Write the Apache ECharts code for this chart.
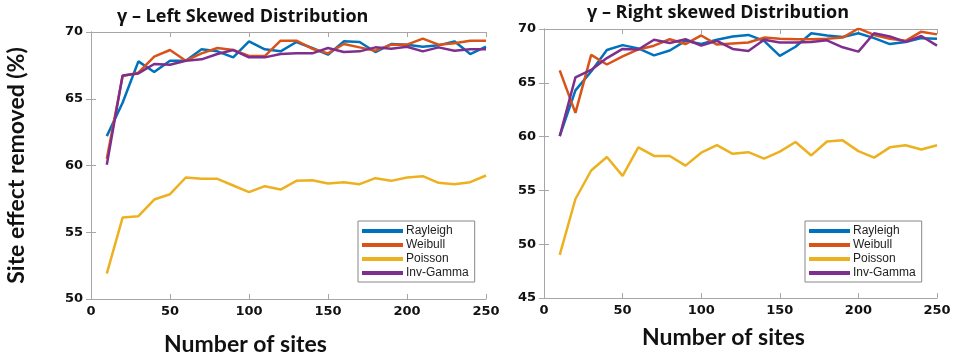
<!DOCTYPE html>
<html>
<head>
<meta charset="utf-8">
<script src="https://cdn.jsdelivr.net/npm/echarts@6/dist/echarts.min.js"></script>
<style>
  html, body { margin: 0; padding: 0; background: #fff; }
  #chart { width: 957px; height: 356px; }
</style>
</head>
<body>
<div id="chart"></div>
<script>
const sites = [10, 20, 30, 40, 50, 60, 70, 80, 90, 100, 110, 120, 130, 140, 150, 160, 170, 180, 190, 200, 210, 220, 230, 240, 250];
const seriesNames = ['Rayleigh', 'Weibull', 'Poisson', 'Inv-Gamma'];

// left skewed
const leftRayleigh = [62.2, 64.7, 67.8, 67.0, 67.85, 67.85, 68.7, 68.55, 68.1, 69.3, 68.7, 68.55, 69.25, 68.8, 68.3, 69.3, 69.25, 68.5, 69.1, 69.05, 68.9, 69.0, 69.3, 68.35, 68.9];
const leftWeibull = [60.5, 66.7, 66.95, 68.15, 68.65, 67.85, 68.4, 68.8, 68.65, 68.2, 68.2, 69.35, 69.35, 68.75, 68.4, 69.1, 68.85, 68.6, 69.05, 69.05, 69.5, 69.05, 69.15, 69.35, 69.35];
const leftPoisson = [51.9, 56.1, 56.2, 57.45, 57.85, 59.1, 59.0, 59.0, 58.5, 58.0, 58.45, 58.2, 58.85, 58.9, 58.65, 58.75, 58.6, 59.05, 58.85, 59.1, 59.2, 58.7, 58.6, 58.75, 59.25];
const leftInvGamma = [60.05, 66.75, 66.9, 67.6, 67.55, 67.85, 67.95, 68.35, 68.65, 68.1, 68.1, 68.35, 68.4, 68.4, 68.8, 68.5, 68.55, 68.85, 68.75, 68.9, 68.55, 68.85, 68.6, 68.7, 68.7];

// right skewed
const rightRayleigh = [60.05, 64.3, 66.05, 68.05, 68.5, 68.2, 67.55, 68.0, 68.9, 68.6, 69.0, 69.3, 69.45, 68.9, 67.5, 68.35, 69.6, 69.4, 69.25, 69.6, 69.15, 68.6, 68.8, 69.15, 69.1];
const rightWeibull = [66.15, 62.2, 67.6, 66.7, 67.45, 68.1, 68.45, 69.05, 68.6, 69.4, 68.55, 68.65, 68.75, 69.2, 69.1, 69.05, 69.05, 69.1, 69.2, 70.05, 69.45, 69.1, 68.9, 69.75, 69.5];
const rightPoisson = [49.0, 54.2, 56.85, 58.1, 56.35, 59.0, 58.2, 58.2, 57.3, 58.5, 59.2, 58.4, 58.55, 57.95, 58.6, 59.5, 58.25, 59.55, 59.65, 58.65, 58.05, 59.0, 59.2, 58.8, 59.2];
const rightInvGamma = [60.05, 65.5, 66.2, 67.3, 68.15, 68.1, 69.0, 68.7, 69.05, 68.45, 68.9, 68.15, 67.95, 69.0, 68.75, 68.75, 68.8, 68.95, 68.3, 67.9, 69.6, 69.3, 68.8, 69.35, 68.45];

const colors = ['#0072BD', '#D95319', '#EDB120', '#7E2F8E'];
const boxColor = '#a6a6a6';
const tickFont = { fontFamily: 'DejaVu Sans', fontWeight: 'bold', fontSize: 13, color: '#111' };
const nameFont = { fontFamily: 'Lato', fontWeight: 'bold', fontSize: 23, color: '#111' };

function pairs(ys) {
  return sites.map((x, i) => [x, ys[i]]);
}

function bottomX(gridIndex, nameGap, shift) {
  return {
    type: 'value', gridIndex: gridIndex, min: 0, max: 250, interval: 50,
    name: 'Number of sites', nameLocation: 'middle', nameGap: nameGap,
    nameTextStyle: Object.assign({ padding: [0, shift, 0, 0] }, nameFont),
    axisLine: { show: true, lineStyle: { color: boxColor } },
    axisTick: { inside: true, length: 5, lineStyle: { color: boxColor } },
    axisLabel: Object.assign({ margin: 6 }, tickFont),
    splitLine: { show: false }
  };
}
function topX(gridIndex) {
  return {
    type: 'value', gridIndex: gridIndex, position: 'top', min: 0, max: 250, interval: 50,
    axisLine: { show: true, lineStyle: { color: boxColor } },
    axisTick: { inside: true, length: 5, lineStyle: { color: boxColor } },
    axisLabel: { show: false }, splitLine: { show: false }
  };
}
function leftY(gridIndex, min, extra) {
  return Object.assign({
    type: 'value', gridIndex: gridIndex, min: min, max: 70, interval: 5,
    axisLine: { show: true, lineStyle: { color: boxColor } },
    axisTick: { inside: true, length: 5, lineStyle: { color: boxColor } },
    axisLabel: Object.assign({ margin: 8 }, tickFont),
    splitLine: { show: false }
  }, extra || {});
}
function rightY(gridIndex, min) {
  return {
    type: 'value', gridIndex: gridIndex, position: 'right', min: min, max: 70, interval: 5,
    axisLine: { show: true, lineStyle: { color: boxColor } },
    axisTick: { inside: true, length: 5, lineStyle: { color: boxColor } },
    axisLabel: { show: false }, splitLine: { show: false }
  };
}
function line(name, ys, xi, yi) {
  return {
    name: name, type: 'line', data: pairs(ys), xAxisIndex: xi, yAxisIndex: yi,
    showSymbol: false, symbol: 'none',
    lineStyle: { width: 2.5 }
  };
}
function legendAt(left, top) {
  return {
    orient: 'vertical', left: left, top: top, data: seriesNames,
    icon: 'rect', itemWidth: 41, itemHeight: 4, itemGap: 2,
    backgroundColor: '#fff', borderColor: '#888', borderWidth: 1,
    padding: [4, 6, 3, 4],
    textStyle: { fontFamily: 'Liberation Sans', fontSize: 12, color: '#222', padding: [0, 0, 0, -2] }
  };
}

const chart = echarts.init(document.getElementById('chart'), null, { renderer: 'canvas' });
chart.setOption({
  animation: false,
  color: colors,
  title: [
    { text: 'γ – Left Skewed Distribution', left: 112, top: 3,
      textStyle: { fontFamily: 'Open Sans', fontWeight: 'bold', fontSize: 18, color: '#111' } },
    { text: 'γ – Right skewed Distribution', left: 582, top: -1,
      textStyle: { fontFamily: 'Open Sans', fontWeight: 'bold', fontSize: 18, color: '#111' } }
  ],
  legend: [legendAt(358, 221), legendAt(805, 221)],
  grid: [
    { left: 91, right: 471, top: 32, bottom: 57, outerBoundsMode: 'none' },
    { left: 544, right: 20, top: 29, bottom: 58, outerBoundsMode: 'none' }
  ],
  xAxis: [bottomX(0, 34, 86), topX(0), bottomX(1, 28, 34), topX(1)],
  yAxis: [
    leftY(0, 50, {
      name: 'Site effect removed (%)', nameLocation: 'middle', nameGap: 63,
      nameTextStyle: nameFont
    }),
    rightY(0, 50),
    leftY(1, 45),
    rightY(1, 45)
  ],
  series: [
    line('Rayleigh', leftRayleigh, 0, 0),
    line('Weibull', leftWeibull, 0, 0),
    line('Poisson', leftPoisson, 0, 0),
    line('Inv-Gamma', leftInvGamma, 0, 0),
    line('Rayleigh', rightRayleigh, 2, 2),
    line('Weibull', rightWeibull, 2, 2),
    line('Poisson', rightPoisson, 2, 2),
    line('Inv-Gamma', rightInvGamma, 2, 2)
  ]
});
</script>
</body>
</html>
